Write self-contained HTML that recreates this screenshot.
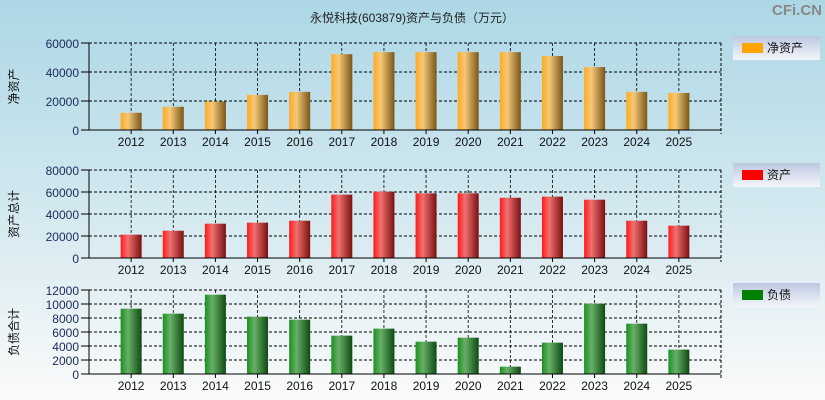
<!DOCTYPE html>
<html><head><meta charset="utf-8"><style>
html,body{margin:0;padding:0;width:825px;height:400px;overflow:hidden}
svg{display:block;font-family:"Liberation Sans","Noto Sans CJK SC",sans-serif}
</style></head><body>
<svg id="c" width="825" height="400" xmlns="http://www.w3.org/2000/svg">
<defs>
<linearGradient id="bg" x1="0" y1="0" x2="0" y2="1"><stop offset="0" stop-color="#acd7e5"/><stop offset="0.6" stop-color="#d9ebf1"/><stop offset="1" stop-color="#fbfbfb"/></linearGradient>
<linearGradient id="gO" x1="0" y1="0" x2="1" y2="0"><stop offset="0" stop-color="#ffaa20"/><stop offset="0.35" stop-color="#f5c878"/><stop offset="1" stop-color="#7a5618"/></linearGradient>
<linearGradient id="gR" x1="0" y1="0" x2="1" y2="0"><stop offset="0" stop-color="#ff1a1a"/><stop offset="0.35" stop-color="#f07070"/><stop offset="1" stop-color="#7a1010"/></linearGradient>
<linearGradient id="gG" x1="0" y1="0" x2="1" y2="0"><stop offset="0" stop-color="#1a9020"/><stop offset="0.35" stop-color="#68b068"/><stop offset="1" stop-color="#0e4a12"/></linearGradient>
<linearGradient id="lg" x1="0" y1="0" x2="0" y2="1"><stop offset="0" stop-color="#bcc8e0"/><stop offset="1" stop-color="#f4f6fa"/></linearGradient>
</defs>
<rect width="825" height="400" fill="url(#bg)"/>
<text x="412" y="22" text-anchor="middle" font-size="12" fill="#222">永悦科技(603879)资产与负债（万元）</text>
<text x="822" y="15" text-anchor="end" font-size="15" font-weight="bold" fill="#888">CFi.CN</text>
</svg>
<script>
const years=['2012','2013','2014','2015','2016','2017','2018','2019','2020','2021','2022','2023','2024','2025'];
const netAssets=[11900,16000,19700,24200,26300,52300,53700,53700,53700,53700,51000,43400,26300,25600];
const totalAssets=[21200,24800,31200,32100,33900,57600,60300,58800,58800,54800,55800,53000,33900,29400];
const liabilities=[9330,8620,11330,8190,7760,5480,6480,4620,5190,1050,4480,10050,7190,3480];
const ticks1=[0,20000,40000,60000];
const ticks2=[0,20000,40000,60000,80000];
const ticks3=[0,2000,4000,6000,8000,10000,12000];
const svg=document.getElementById('c');
const NS='http://www.w3.org/2000/svg';
function el(t,a,p){const e=document.createElementNS(NS,t);for(const k in a)e.setAttribute(k,a[k]);(p||svg).appendChild(e);return e;}
const X0=89,X1=721;
function xc(i){return X0+(X1-X0)/(years.length+1)*(i+1);}
function panel(key,top,bot,max,ticks,vals,grad,yTitle,legName,legColor,legTop){
  const g=el('g',{});
  
  
  const y=v=>bot-(v/max)*(bot-top);
  ticks.forEach(t=>{
    const yy=y(t);
    if(t>0){const l=el('line',{x1:X0,x2:X1,y1:yy,y2:yy,stroke:'#000','stroke-dasharray':'3,2','stroke-width':1},g);
    
    }
    el('line',{x1:X0-8,x2:X0,y1:yy,y2:yy,stroke:'#000'},g);
    const tx=el('text',{x:X0-10,y:yy+5,'text-anchor':'end','font-size':12,fill:'#1a2a5a'},g);
    tx.textContent=t;
    
    
  });
  years.forEach((yr,i)=>{
    const x=xc(i);
    const gl=el('line',{x1:x,x2:x,y1:top,y2:bot,stroke:'#000','stroke-dasharray':'3,2','stroke-width':0.8},g);
    
    
    const r=el('rect',{x:x-10.5,y:y(vals[i]),width:21,height:bot-y(vals[i]),fill:'url(#'+grad+')'},g);
    
    
    el('line',{x1:x,x2:x,y1:bot,y2:bot+4,stroke:'#000'},g);
    const t=el('text',{x:x,y:bot+16,'text-anchor':'middle','font-size':12,fill:'#111'},g);
    t.textContent=yr;
    
    
  });
  el('line',{x1:X0,x2:X1,y1:top,y2:top,stroke:'#000','stroke-dasharray':'3,2'},g);
  el('line',{x1:X1,x2:X1,y1:top,y2:bot+4,stroke:'#000','stroke-dasharray':'3,2'},g);
  el('line',{x1:X0,x2:X0,y1:top,y2:bot,stroke:'#000'},g);
  el('line',{x1:X0,x2:X1,y1:bot,y2:bot,stroke:'#000'},g);
  const yt=el('text',{x:0,y:0,'text-anchor':'middle','font-size':12,fill:'#111',transform:'translate(18,'+((top+bot)/2)+') rotate(-90)'},g);
  yt.textContent=yTitle;
  
  
  const lg=el('g',{},g);
  
  
  el('rect',{x:733,y:legTop,width:87,height:24,fill:'url(#lg)'},lg);
  el('rect',{x:742,y:legTop+7,width:21,height:10,fill:legColor},lg);
  const lt=el('text',{x:767,y:legTop+16,'font-size':12,fill:'#111'},lg);
  lt.textContent=legName;
  
  
}
panel('net-assets',43,130,60000,ticks1,netAssets,'gO','净资产','净资产','#ffa500',36);
panel('total-assets',170,258,80000,ticks2,totalAssets,'gR','资产总计','资产','#ff0000',163);
panel('liabilities',290,374,12000,ticks3,liabilities,'gG','负债合计','负债','#008000',283);
</script>
</body></html>
